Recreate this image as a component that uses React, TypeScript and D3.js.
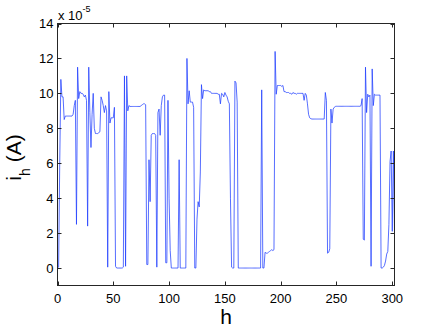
import React, { useRef, useEffect } from 'react'
import * as d3 from 'd3'

// i_h in units of 1e-5 A, one value per harmonic h = 0..302
const ihValues = [
  0.0, 0.05, 6.0, 10.8, 9.8, 9.8, 8.5, 8.7, 8.7, 8.7,
  8.7, 8.7, 8.7, 8.7, 8.8, 9.3, 9.6, 2.5, 11.5, 9.7,
  10.1, 10.0, 10.0, 9.95, 9.8, 9.9, 9.6, 2.4, 11.5, 8.9,
  6.9, 8.8, 10.0, 8.0, 7.7, 7.7, 7.7, 7.75, 7.8, 9.8,
  9.6, 9.3, 8.9, 9.3, 9.0, 0.05, 10.1, 8.3, 8.6, 8.6,
  8.6, 9.2, 0.1, 0.0, 0.0, 0.0, 0.0, 0.0, 0.0, 0.05,
  11.0, 0.1, 11.0, 9.0, 9.3, 9.25, 9.25, 9.25, 9.25, 9.25,
  9.25, 9.25, 9.25, 9.25, 9.25, 9.3, 9.35, 9.4, 9.4, 9.35,
  0.2, 0.2, 6.2, 3.8, 7.6, 7.7, 7.7, 7.7, 7.6, 0.05,
  8.9, 9.1, 7.6, 9.3, 9.8, 9.9, 9.9, 0.3, 0.3, 9.6,
  4.0, 1.0, 0.0, 0.0, 0.0, 0.0, 0.0, 0.0, 0.0, 6.2,
  0.0, 0.0, 0.0, 0.0, 0.0, 0.0, 12.0, 9.4, 10.15, 9.5,
  9.5, 9.5, 9.2, 0.0, 0.0, 2.8, 3.8, 3.5, 5.5, 10.5,
  9.7, 10.2, 10.15, 10.15, 10.15, 10.15, 10.1, 10.1, 10.0, 10.0,
  10.0, 10.0, 10.0, 10.0, 9.95, 9.95, 9.4, 10.0, 9.95, 9.8,
  10.05, 9.9, 9.8, 9.55, 9.4, 4.0, 0.05, 0.0, 0.0, 10.7,
  10.6, 9.5, 0.0, 0.0, 0.0, 0.0, 0.0, 0.0, 0.0, 0.0,
  0.0, 0.0, 0.0, 0.0, 0.0, 0.0, 0.0, 0.0, 0.0, 0.0,
  0.0, 0.0, 0.0, 10.2, 0.0, 0.0, 0.9, 0.85, 0.85, 0.9,
  0.95, 1.0, 1.05, 1.0, 1.05, 12.4, 9.95, 10.45, 10.45, 10.45,
  10.45, 10.4, 10.45, 10.1, 10.1, 10.05, 10.05, 10.05, 10.0, 10.0,
  9.95, 10.05, 10.0, 10.0, 9.95, 10.0, 10.0, 10.0, 10.0, 10.0,
  10.0, 9.6, 10.0, 9.9, 9.4, 8.8, 8.6, 8.55, 8.53, 8.53,
  8.53, 8.53, 8.53, 8.53, 8.53, 8.53, 8.53, 8.53, 8.53, 8.53,
  10.05, 9.6, 0.85, 0.9, 1.1, 9.1, 8.3, 9.1, 9.2, 9.25,
  9.26, 9.26, 9.26, 9.26, 9.26, 9.26, 9.26, 9.26, 9.26, 9.26,
  9.26, 9.26, 9.26, 9.26, 9.26, 9.26, 9.26, 9.26, 9.26, 9.26,
  9.26, 9.26, 9.3, 9.7, 1.65, 1.6, 11.5, 8.9, 9.95, 9.8,
  9.9, 0.1, 11.4, 9.3, 9.95, 9.9, 9.9, 9.9, 9.9, 9.9,
  0.0, 0.0, 0.05, 0.15, 0.4, 0.8, 0.95, 2.5, 6.1, 6.7,
  2.1, 6.7, 2.0,
]

const xTicks = [0, 50, 100, 150, 200, 250, 300]
const yTicks = [0, 2, 4, 6, 8, 10, 12, 14]

const App = () => {
  const element = useRef<SVGSVGElement>(null)

  useEffect(() => {
    const width = 436
    const height = 328
    const left = 57.5
    const right = 394.5
    const top = 23.5
    const bottom = 285.5
    const font = '"Liberation Sans", Arial, Helvetica, sans-serif'
    const axisColor = '#262626'
    const tickLen = 4

    const svg = d3.select(element.current)
    svg.selectAll('*').remove()
    svg.attr('width', width).attr('height', height)

    svg.append('rect')
      .attr('width', width)
      .attr('height', height)
      .attr('fill', '#fff')

    const x = d3.scaleLinear().domain([0, 302]).range([left, right])
    const y = d3.scaleLinear().domain([-1, 14]).range([bottom, top])

    const points: [number, number][] = ihValues.map((v, h) => [h, v])

    // data line
    svg.append('path')
      .datum(points)
      .attr('fill', 'none')
      .attr('stroke', '#1f3dff')
      .attr('stroke-width', 0.75)
      .attr('stroke-linejoin', 'round')
      .attr('d', d3.line<[number, number]>()
        .x(d => x(d[0]))
        .y(d => y(d[1])))

    // box
    svg.append('rect')
      .attr('x', left)
      .attr('y', top)
      .attr('width', right - left)
      .attr('height', bottom - top)
      .attr('fill', 'none')
      .attr('stroke', axisColor)
      .attr('stroke-width', 1)

    const ticks = svg.append('g')
      .attr('stroke', axisColor)
      .attr('stroke-width', 1)

    xTicks.forEach(t => {
      const px = Math.round(x(t)) + 0.5
      ticks.append('line')
        .attr('x1', px).attr('x2', px)
        .attr('y1', bottom).attr('y2', bottom - tickLen)
      ticks.append('line')
        .attr('x1', px).attr('x2', px)
        .attr('y1', top).attr('y2', top + tickLen)
    })
    yTicks.forEach(t => {
      const py = Math.round(y(t)) + 0.5
      ticks.append('line')
        .attr('x1', left).attr('x2', left + tickLen)
        .attr('y1', py).attr('y2', py)
      ticks.append('line')
        .attr('x1', right).attr('x2', right - tickLen)
        .attr('y1', py).attr('y2', py)
    })

    const labels = svg.append('g')
      .attr('font-family', font)
      .attr('font-size', 13)
      .attr('fill', '#000')

    xTicks.forEach(t => {
      labels.append('text')
        .attr('x', x(t))
        .attr('y', 303)
        .attr('text-anchor', 'middle')
        .text(t)
    })
    yTicks.forEach(t => {
      labels.append('text')
        .attr('x', left - 4)
        .attr('y', y(t) + 4.7)
        .attr('text-anchor', 'end')
        .text(t)
    })

    // exponent multiplier
    const mult = svg.append('text')
      .attr('x', 58)
      .attr('y', 20)
      .attr('font-family', font)
      .attr('font-size', 13)
    mult.append('tspan').text('x 10')
    mult.append('tspan')
      .attr('font-size', 9)
      .attr('dy', -8)
      .text('-5')

    // x label
    svg.append('text')
      .attr('x', 226)
      .attr('y', 324)
      .attr('text-anchor', 'middle')
      .attr('font-family', font)
      .attr('font-size', 21)
      .text('h')

    // y label
    const ylab = svg.append('text')
      .attr('transform', 'translate(20.7,157.5) rotate(-90)')
      .attr('text-anchor', 'middle')
      .attr('font-family', font)
      .attr('font-size', 21)
    ylab.append('tspan').text('i')
    ylab.append('tspan')
      .attr('font-size', 14)
      .attr('dy', 9)
      .text('h')
    ylab.append('tspan')
      .attr('dy', -9)
      .text(' (A)')
  }, [])

  return (
    <svg ref={element} style={{ position: 'absolute', left: 0, top: 0, display: 'block' }}></svg>
  )
}

export default App
